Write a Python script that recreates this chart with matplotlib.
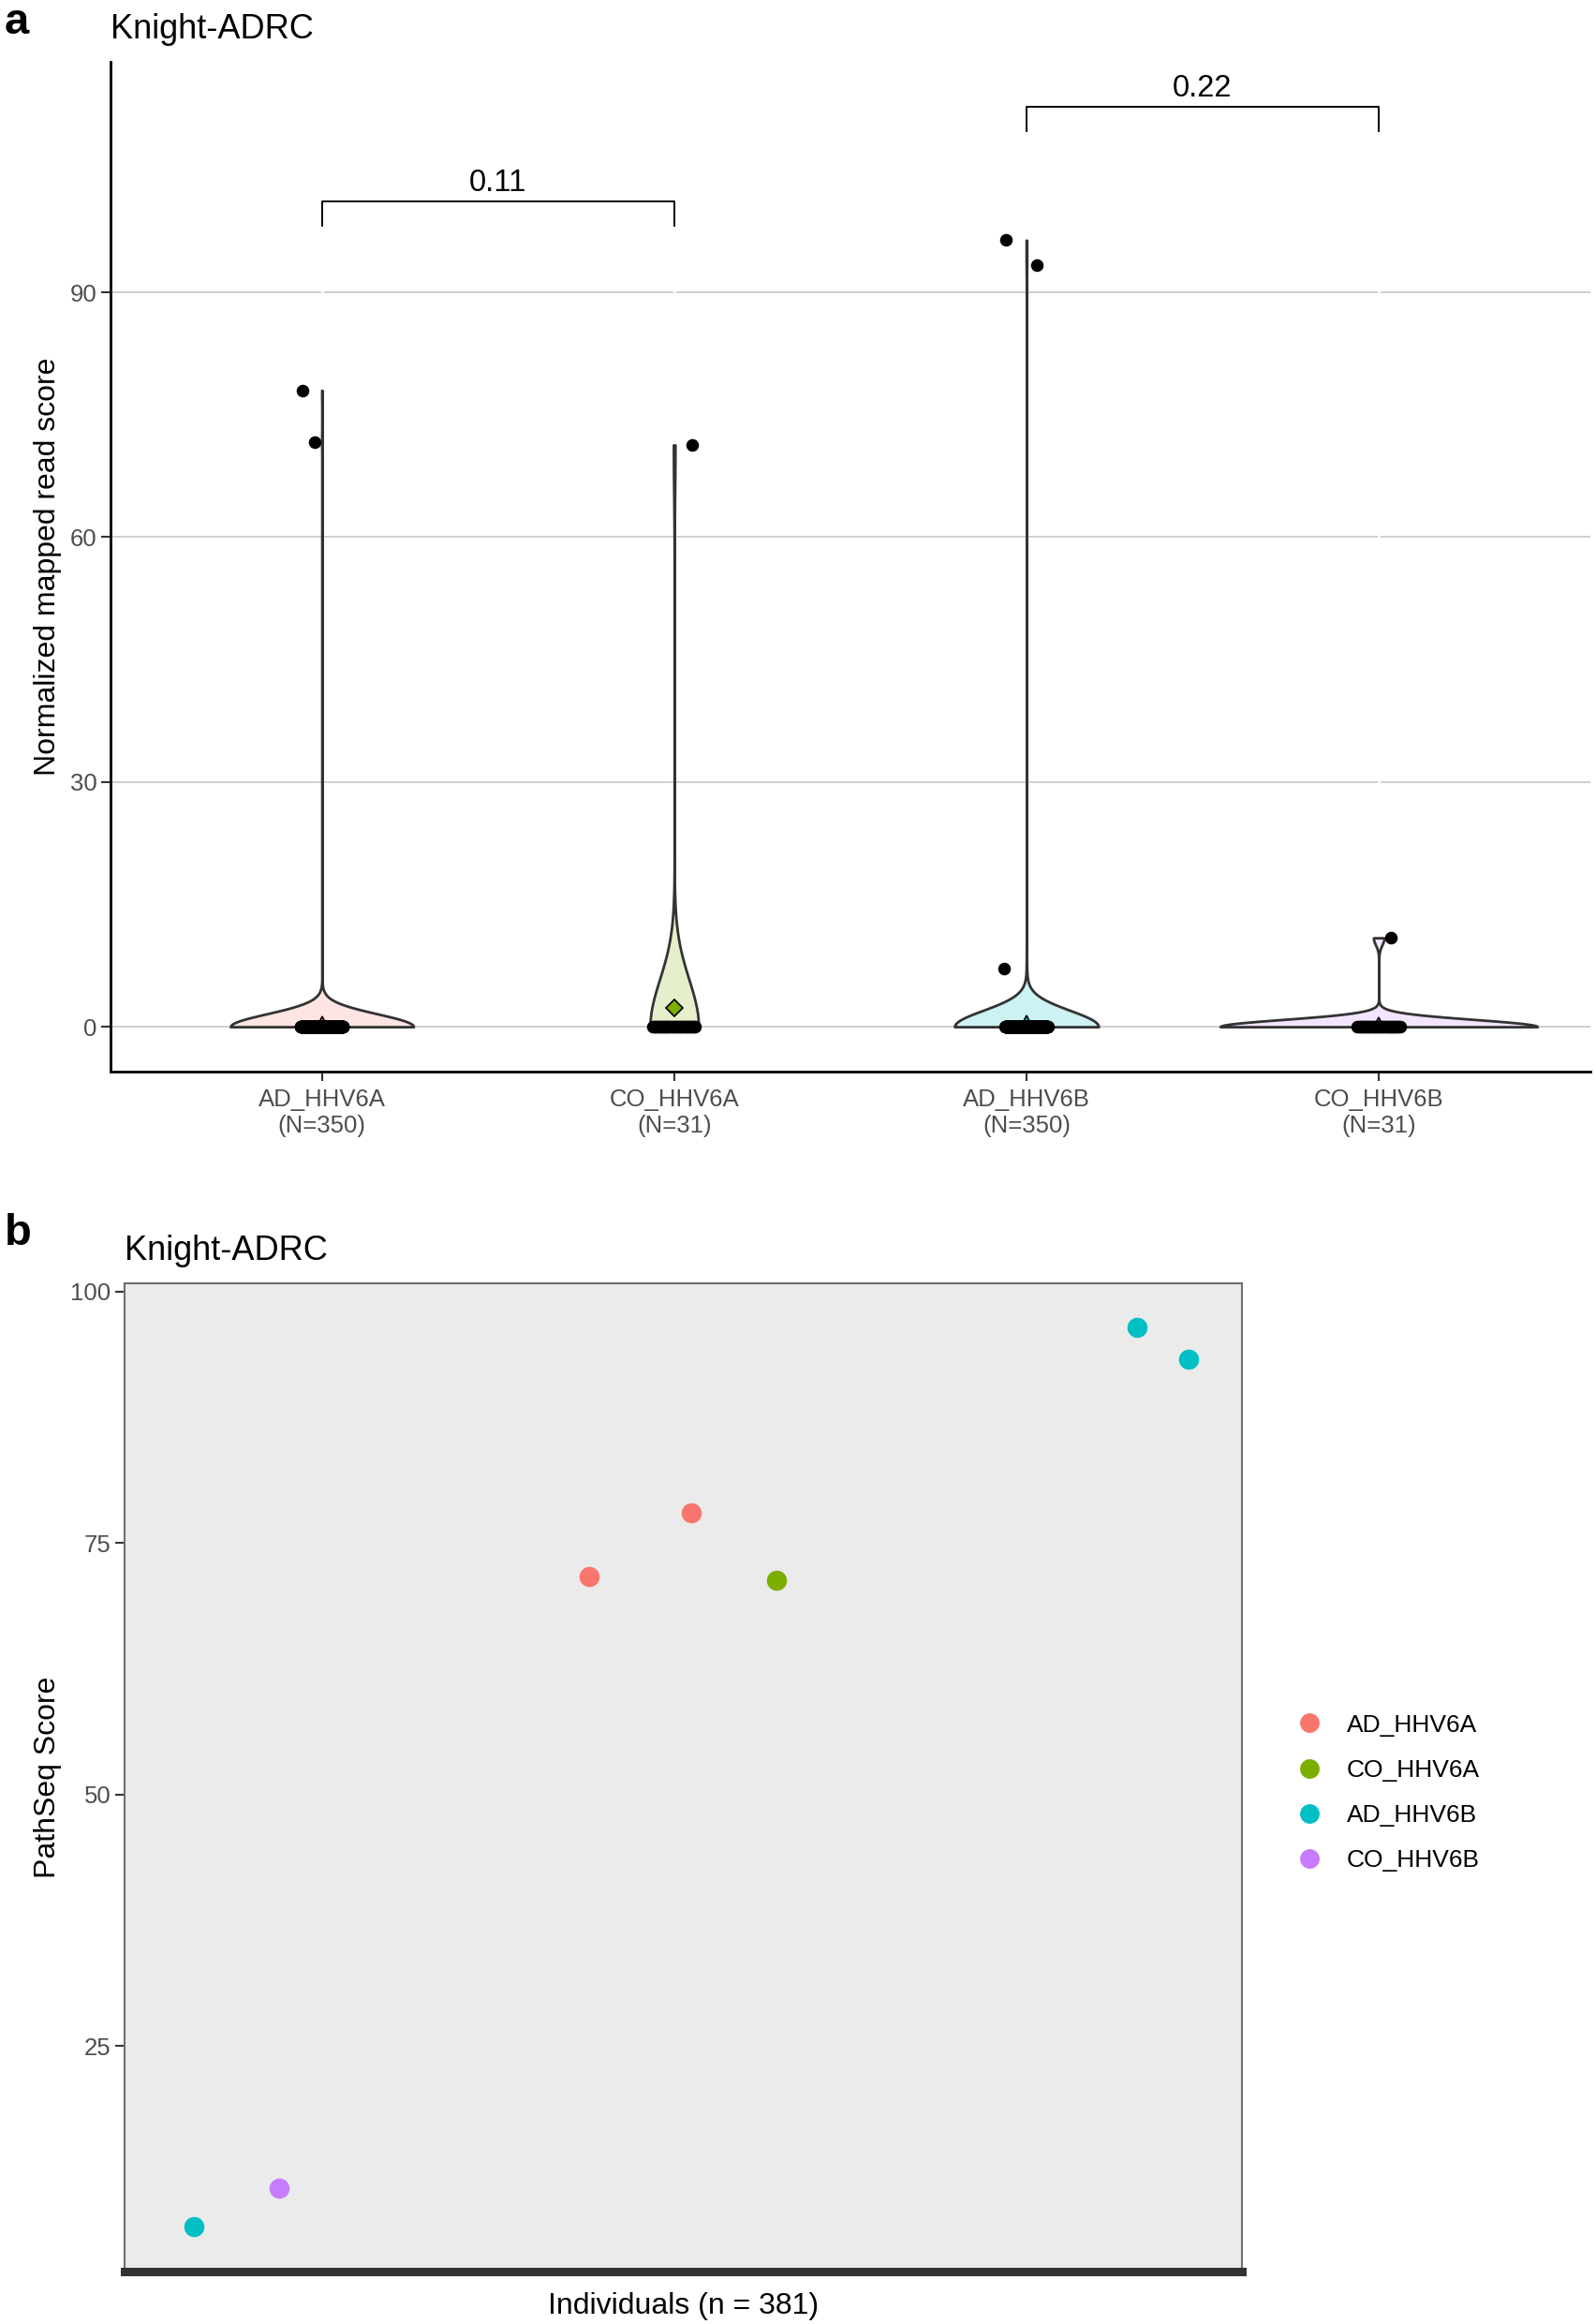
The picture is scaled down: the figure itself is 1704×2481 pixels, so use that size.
import numpy as np
import matplotlib
matplotlib.use('Agg')
import matplotlib.pyplot as plt
from matplotlib import mlab
from matplotlib.lines import Line2D

plt.rcParams['font.family'] = ['Liberation Sans', 'DejaVu Sans']

# groups and sample sizes
groups = ['AD_HHV6A', 'CO_HHV6A', 'AD_HHV6B', 'CO_HHV6B']
group_n = [350, 31, 350, 31]
colors = ['#F8766D', '#7CAE00', '#00BFC4', '#C77CFF']
fills = ['#FEE4E2', '#E5EFCC', '#CCF2F3', '#F3E5FF']

# non-zero normalized mapped read scores (everyone else is 0)
nonzero_scores = [
    [78.0, 71.7],
    [71.3],
    [96.4, 93.3, 7.1],
    [10.9],
]
# horizontal jitter of the non-zero points
nonzero_jitter = [
    [-0.055, -0.021],
    [0.05],
    [-0.059, 0.029, -0.063],
    [0.034],
]
mean_markers = ['^', 'D', '^', '^']

# p-values of the comparisons
comparisons = [(1, 2, '0.11'), (3, 4, '0.22')]
bracket_y = [101.1, 112.7]

# panel b: individuals with a non-zero PathSeq score
ind_index = [8, 40, 156, 194, 226, 361, 380]
ind_score = [7.1, 10.9, 71.7, 78.0, 71.3, 96.4, 93.3]
ind_group = ['AD_HHV6B', 'CO_HHV6B', 'AD_HHV6A', 'AD_HHV6A', 'CO_HHV6A',
             'AD_HHV6B', 'AD_HHV6B']
n_individuals = 381


def nrd0(kde):
    # R's bw.nrd0 when IQR is 0
    return 0.9 * kde.num_dp ** -0.2


data = []
for n, vals in zip(group_n, nonzero_scores):
    data.append(np.concatenate([np.zeros(n - len(vals)), vals]))

fig = plt.figure(figsize=(17.04, 24.81), dpi=100)

# ---------------- panel a ----------------
ax = fig.add_axes([0.0693, 0.539, 0.927, 0.4342])
pos = np.arange(1, len(groups) + 1)

# ggplot scale="area": width proportional to peak density
peaks = [mlab.GaussianKDE(d, nrd0).evaluate(np.array([0.0]))[0] for d in data]
widths = [0.9 * p / max(peaks) for p in peaks]

vp = ax.violinplot(data, positions=pos, widths=widths, showextrema=False,
                   points=800, bw_method=nrd0)
for body, fc in zip(vp['bodies'], fills):
    body.set_facecolor(fc)
    body.set_edgecolor('#333333')
    body.set_linewidth(2)
    body.set_alpha(1)
    body.set_zorder(2)

for i, d in enumerate(data):
    ax.plot(pos[i], d.mean(), marker=mean_markers[i], ms=10 if mean_markers[i] == '^' else 9,
            mfc=colors[i], mec='black', mew=1.2, zorder=3)
    nz = len(nonzero_scores[i])
    xs = pos[i] + np.linspace(-0.06, 0.06, len(d) - nz)
    ax.scatter(xs, np.zeros(len(xs)), s=95, color='black', zorder=4, linewidths=0)
    ax.scatter(pos[i] + np.array(nonzero_jitter[i]), nonzero_scores[i], s=95,
               color='black', zorder=4, linewidths=0)

for (a, b, lab), yb in zip(comparisons, bracket_y):
    ax.plot([a, a, b, b], [yb - 2.9, yb, yb, yb - 2.9], color='black', lw=1.4,
            zorder=5)
    ax.text((a + b) / 2, yb + 1.3, lab, ha='center', va='baseline', fontsize=23.5)

ax.set_xlim(0.4, 4.6)
ax.set_ylim(-5.47, 118.2)
ax.set_yticks([0, 30, 60, 90])
ax.set_xticks(pos)
ax.set_xticklabels([f'{g}\n(N={n})' for g, n in zip(groups, group_n)],
                   linespacing=1.2)
ax.tick_params(axis='both', labelsize=18.5, labelcolor='#4D4D4D', color='#333333',
               width=1.5, length=7)
ax.tick_params(axis='x', pad=6)
ax.set_axisbelow(True)
ax.grid(axis='y', color='#CCCCCC', lw=1.3)
ax.grid(axis='x', color='white', lw=2)
ax.xaxis.set_zorder(0.6)
for s in ['top', 'right']:
    ax.spines[s].set_visible(False)
for s in ['left', 'bottom']:
    ax.spines[s].set_linewidth(2)
    ax.spines[s].set_color('black')
ax.set_ylabel('Normalized mapped read score', fontsize=23)
ax.yaxis.set_label_coords(-0.033, 0.5)

fig.text(0.003, 0.999, 'a', fontsize=34, fontweight='bold', va='top')
fig.text(118 / 1704, 1 - 41 / 2481, 'Knight-ADRC', fontsize=26, va='baseline')

# ---------------- panel b ----------------
bx = fig.add_axes([0.078, 0.0226, 0.700, 0.4252])
bx.set_facecolor('#EBEBEB')
for g, c in zip(groups, colors):
    xs = [x for x, gg in zip(ind_index, ind_group) if gg == g]
    ys = [y for y, gg in zip(ind_score, ind_group) if gg == g]
    bx.scatter(xs, ys, s=240, color=c, linewidths=0, zorder=3)

bx.set_xlim(1 - 0.05 * (n_individuals - 1), n_individuals + 0.05 * (n_individuals - 1))
bx.set_ylim(2.6, 100.8)
bx.set_yticks([25, 50, 75, 100])
bx.set_xticks([])
bx.tick_params(axis='y', labelsize=18.5, labelcolor='#4D4D4D', color='#333333',
               width=1.5, length=7)
for s in ['top', 'right', 'left']:
    bx.spines[s].set_color('#6E6E6E')
    bx.spines[s].set_linewidth(1.5)
bx.spines['bottom'].set_color('#333333')
bx.spines['bottom'].set_linewidth(6.5)
bx.set_ylabel('PathSeq Score', fontsize=23)
bx.yaxis.set_label_coords(-0.056, 0.5)
bx.set_xlabel(f'Individuals (n = {n_individuals})', fontsize=23, labelpad=16)

handles = [Line2D([], [], ls='', marker='o', ms=15, mfc=c, mec='none') for c in colors]
fig.legend(handles, groups, loc='center left', bbox_to_anchor=(0.799, 1 - 1914 / 2481),
           frameon=False, fontsize=19, handletextpad=1.0, labelspacing=0.92,
           handlelength=1.0)

fig.text(0.003, 1 - 1329 / 2481, 'b', fontsize=34, fontweight='bold', va='baseline')
fig.text(133 / 1704, 1 - 1345 / 2481, 'Knight-ADRC', fontsize=26, va='baseline')

fig.savefig('out.png', dpi=100)
